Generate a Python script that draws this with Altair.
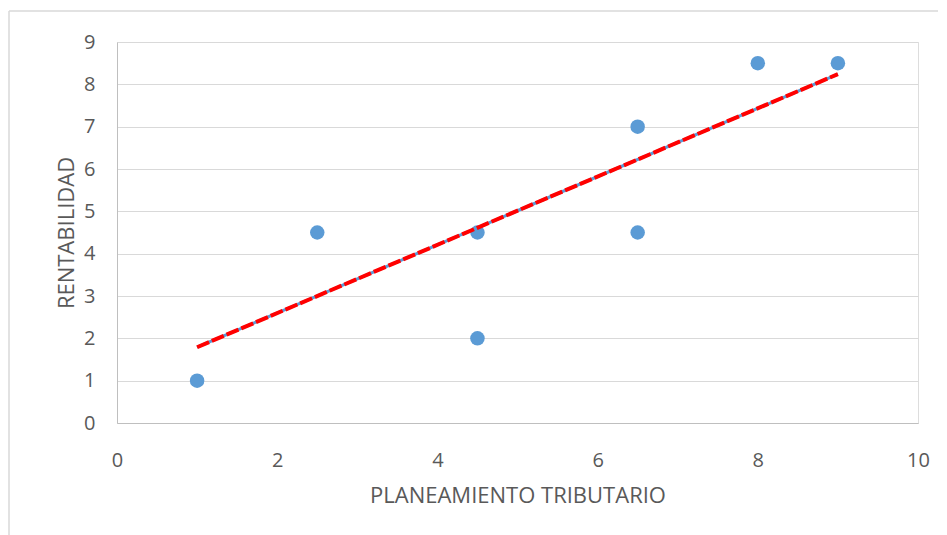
import altair as alt
import pandas as pd

# Scatter data
plan = [1, 2.5, 4.5, 4.5, 6.5, 6.5, 8, 9]
rent = [1, 4.5, 4.5, 2, 7, 4.5, 8.5, 8.5]

# Trend line endpoints
trend_x = [1, 9]
trend_y = [1.79, 8.24]

x_ticks = [0, 2, 4, 6, 8, 10]
y_ticks = [0, 1, 2, 3, 4, 5, 6, 7, 8, 9]

pts = pd.DataFrame({"x": plan, "y": rent})
trend = pd.DataFrame({"x": trend_x, "y": trend_y})

FONT = "Open Sans"
GREY = "#595959"

xscale = alt.Scale(domain=[0, 10], nice=False)
yscale = alt.Scale(domain=[0, 9], nice=False)

xaxis = alt.Axis(values=x_ticks, format="d", title="PLANEAMIENTO TRIBUTARIO",
                 grid=False, labelPadding=27, titlePadding=15, labelFlush=False)
yaxis = alt.Axis(values=y_ticks, format="d", title="RENTABILIDAD", grid=True,
                 labelPadding=22, titlePadding=5, labelFlush=False)

X = alt.X("x:Q", scale=xscale, axis=xaxis)
Y = alt.Y("y:Q", scale=yscale, axis=yaxis)

points = alt.Chart(pts).mark_circle(size=210, color="#5B9BD5", opacity=1).encode(
    x=X, y=Y)

blue_line = alt.Chart(trend).mark_line(color="#5B9BD5", strokeWidth=3).encode(
    x=X, y=Y)
red_line = alt.Chart(trend).mark_line(color="#FF0000", strokeWidth=4,
                                      strokeDash=[13, 3]).encode(x=X, y=Y)

border_left = alt.Chart(pd.DataFrame({"a": [0]})).mark_rule(
    color="#D9D9D9", strokeWidth=1.5, clip=False).encode(
    x=alt.value(-108), y=alt.value(-31), y2=alt.value(540))
border_top = alt.Chart(pd.DataFrame({"a": [0]})).mark_rule(
    color="#D9D9D9", strokeWidth=1.5, clip=False).encode(
    x=alt.value(-108), x2=alt.value(840), y=alt.value(-31))

chart = alt.layer(points, blue_line, red_line, border_left, border_top).properties(
    width=801, height=381,
    autosize=alt.AutoSizeParams(type="none"),
    padding={"left": 109, "top": 34, "right": 20, "bottom": 120},
).configure_view(stroke=None).configure(background="white").configure_axis(
    labelFont=FONT, titleFont=FONT, labelFontSize=20, titleFontSize=22,
    labelColor=GREY, titleColor=GREY, titleFontWeight="normal",
    gridColor="#D9D9D9", domainColor="#BFBFBF", ticks=False,
)

chart.save("out.html", embed_options={"renderer": "svg", "actions": False})
